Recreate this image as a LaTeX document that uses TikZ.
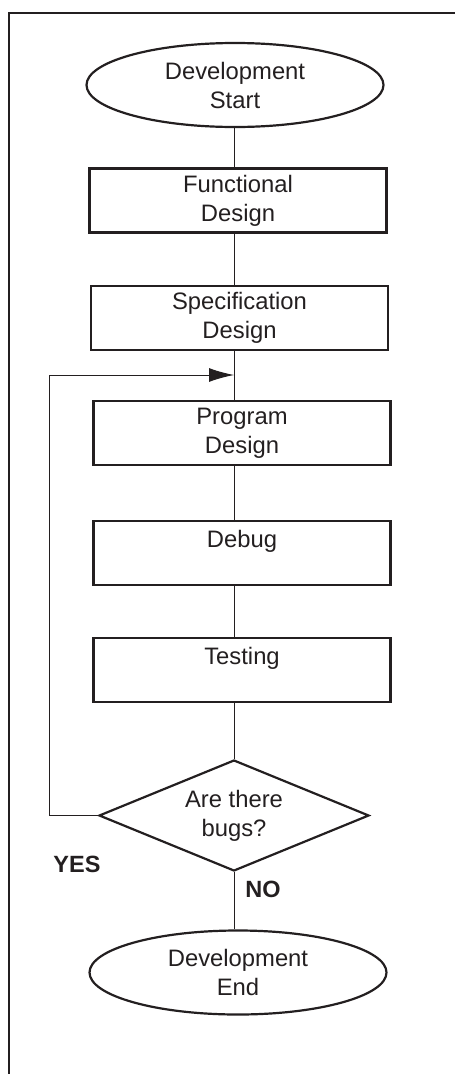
\documentclass[tikz,border=0pt]{standalone}
\usepackage{fontspec}
\setmainfont{Liberation Sans}
\usetikzlibrary{shapes.geometric,arrows.meta}
\definecolor{ink}{HTML}{231F20}
\begin{document}
\begin{tikzpicture}[x=1pt,y=-1pt,
  every node/.style={font=\fontsize{23.8}{29}\selectfont, text=ink},
  terminal/.style={ellipse, draw=ink, line width=2.2pt, inner sep=0pt, minimum width=297pt, minimum height=84pt, align=center},
  process/.style={rectangle, draw=ink, line width=2.3pt, inner sep=0pt, minimum width=297pt, minimum height=64pt, align=center},
  decision/.style={diamond, shape aspect=2.43, draw=ink, line width=2.2pt, inner sep=0pt, minimum width=270pt, minimum height=111pt, align=center},
  link/.style={draw=ink, line width=1pt},
  frame/.style={draw=ink, line width=2pt},
  answer/.style={font=\fontsize{23.5}{28}\selectfont\bfseries}
]
\useasboundingbox (0,0) rectangle (455,1074);
\draw[frame] (9,1074) -- (9,13) -- (455,13);

\node[terminal] (start) at (235,85) {Development\\Start};
\node[process] (fd) at (238,200.5) {Functional\\Design};
\node[process] (sd) at (239.5,318) {Specification\\Design};
\node[process] (pd) at (242,433) {Program\\Design};
\node[process] (db) at (242,553) {Debug\\~};
\node[process] (ts) at (242,670) {Testing\\~};
\node[decision] (dia) at (234,815.5) {Are there\\bugs?};
\node[terminal] (end) at (238,972.5) {Development\\End};

\coordinate (col) at (234,0);
\coordinate (loopx) at (49,0);
\coordinate (join) at (234,375);

\draw[link] (start.south -| col) -- (fd.north -| col);
\draw[link] (fd.south -| col) -- (sd.north -| col);
\draw[link] (sd.south -| col) -- (pd.north -| col);
\draw[link] (pd.south -| col) -- (db.north -| col);
\draw[link] (db.south -| col) -- (ts.north -| col);
\draw[link] (ts.south -| col) -- (dia.north);
\draw[link] (dia.south) -- (end.north -| dia.south);
\draw[link, -{Latex[length=25pt,width=14pt]}] (dia.west) -- (dia.west -| loopx) |- (join);

\node[answer] (yes) at (77,864) {YES};
\node[answer] (no) at (263,889) {NO};
\end{tikzpicture}
\end{document}
